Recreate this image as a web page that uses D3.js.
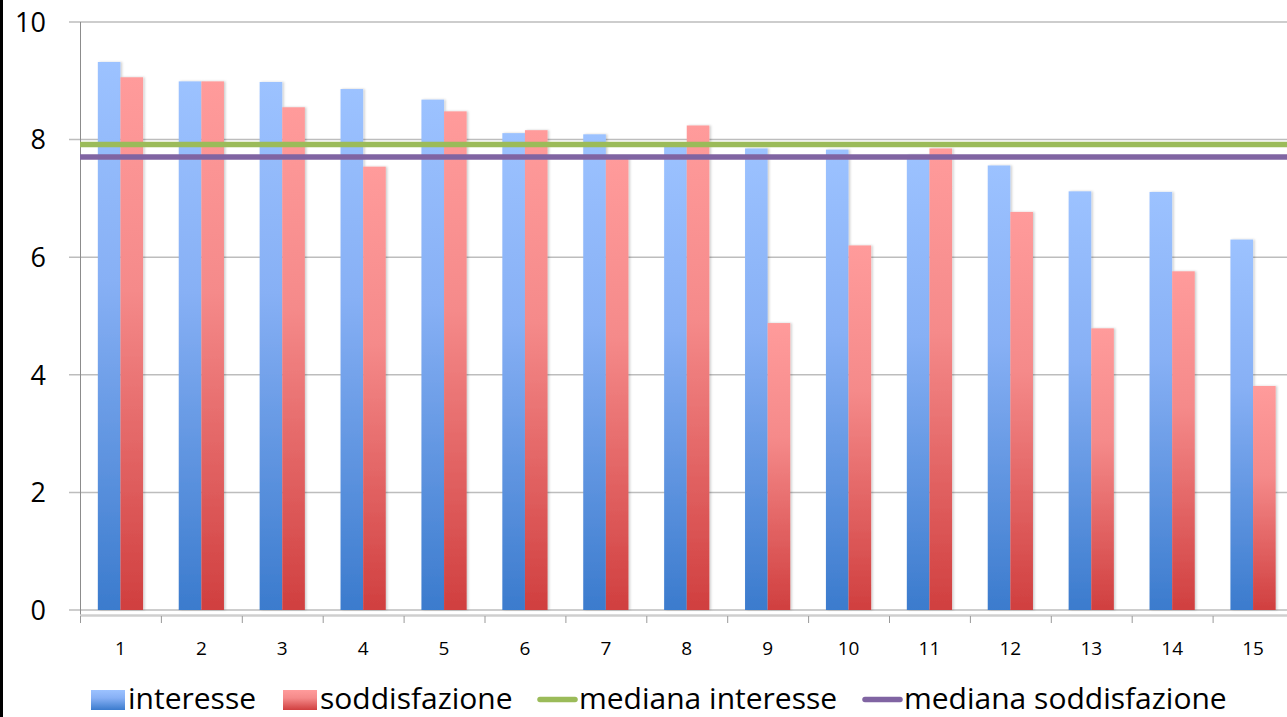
<!DOCTYPE html>
<html>
<head>
<meta charset="utf-8">
<script src="https://cdn.jsdelivr.net/npm/d3@7"></script>
<style>
  html, body { margin: 0; padding: 0; background: #fff; }
  svg { display: block; }
</style>
</head>
<body>
<svg id="chart" width="1287" height="717"></svg>
<script>
const categories = ["1","2","3","4","5","6","7","8","9","10","11","12","13","14","15"];
const interesse = [9.32, 8.99, 8.98, 8.86, 8.68, 8.11, 8.09, 7.92, 7.85, 7.83, 7.74, 7.56, 7.12, 7.11, 6.30];
const soddisfazione = [9.06, 8.99, 8.55, 7.54, 8.48, 8.16, 7.72, 8.24, 4.88, 6.20, 7.85, 6.77, 4.79, 5.76, 3.81];
const medianaInteresse = 7.915;
const medianaSoddisfazione = 7.705;
const yTicks = [0, 2, 4, 6, 8, 10];
const seriesNames = ["interesse", "soddisfazione"];
const legendLabels = ["interesse", "soddisfazione", "mediana interesse", "mediana soddisfazione"];

const svg = d3.select("#chart");
const defs = svg.append("defs");

function grad(id, stops) {
  const g = defs.append("linearGradient").attr("id", id)
    .attr("x1", 0).attr("y1", 0).attr("x2", 0).attr("y2", 1);
  stops.forEach(s => g.append("stop").attr("offset", s[0]).attr("stop-color", s[1]));
}
const blueStops = [["0%", "#9cc2ff"], ["40%", "#87b0f5"], ["100%", "#3b7bcd"]];
const redStops = [["0%", "#ff9b9b"], ["40%", "#f58a8a"], ["100%", "#d03f3f"]];
grad("gBlue", blueStops);
grad("gRed", redStops);
grad("gBlueL", blueStops);
grad("gRedL", redStops);
const fills = { interesse: "url(#gBlue)", soddisfazione: "url(#gRed)" };

const shadow = defs.append("filter").attr("id", "shadow")
  .attr("x", "-20%").attr("y", "-5%").attr("width", "150%").attr("height", "110%");
shadow.append("feDropShadow").attr("dx", 1.5).attr("dy", 0).attr("stdDeviation", 1.2)
  .attr("flood-color", "#000").attr("flood-opacity", 0.2);

const left = 80, bandW = 80.9;
const x = d3.scaleBand().domain(categories).range([left, left + bandW * categories.length]).padding(0);
const x1 = d3.scaleBand().domain(seriesNames).range([x.bandwidth() * 0.2205, x.bandwidth() * 0.7795]).padding(0);
const y = d3.scaleLinear().domain([0, 10]).range([610, 22]);

// left black border
svg.append("rect").attr("x", 0).attr("y", 0).attr("width", 3).attr("height", 717).attr("fill", "#000");

// gridlines
svg.append("g").selectAll("line").data(yTicks).join("line")
  .attr("x1", 69).attr("x2", 1287)
  .attr("y1", d => y(d)).attr("y2", d => y(d))
  .attr("stroke", "#bdbdbd").attr("stroke-width", 1.5);

// y labels
svg.append("g").selectAll("text").data(yTicks).join("text")
  .attr("x", 46).attr("y", d => y(d))
  .attr("dy", "0.36em")
  .attr("text-anchor", "end")
  .attr("font-family", "'Open Sans', sans-serif")
  .attr("font-size", 27)
  .attr("fill", "#000")
  .text(d => d);

// y axis line
svg.append("line").attr("x1", 80.5).attr("x2", 80.5).attr("y1", y(10)).attr("y2", 623)
  .attr("stroke", "#8c8c8c").attr("stroke-width", 1);

// bars
const data = categories.map((c, i) => ({ c, vals: [
  { s: "interesse", v: interesse[i] },
  { s: "soddisfazione", v: soddisfazione[i] }
]}));
const groups = svg.append("g").selectAll("g").data(data).join("g")
  .attr("transform", d => `translate(${x(d.c)},0)`);
groups.selectAll("rect").data(d => d.vals).join("rect")
  .attr("x", d => x1(d.s))
  .attr("y", d => y(d.v))
  .attr("width", x1.bandwidth())
  .attr("height", d => y(0) - y(d.v))
  .attr("fill", d => fills[d.s])
  .attr("filter", "url(#shadow)");

// x axis line
svg.append("line").attr("x1", 80).attr("x2", 1287).attr("y1", 615.5).attr("y2", 615.5)
  .attr("stroke", "#cfcfcf").attr("stroke-width", 2.5);
// x ticks at band boundaries
const boundaries = categories.map(c => x(c));
svg.append("g").selectAll("line").data(boundaries).join("line")
  .attr("x1", d => d + 0.5).attr("x2", d => d + 0.5).attr("y1", 616).attr("y2", 623)
  .attr("stroke", "#999").attr("stroke-width", 1);
// x labels
svg.append("g").selectAll("text").data(categories).join("text")
  .attr("x", d => x(d) + x.bandwidth() / 2)
  .attr("y", 655)
  .attr("text-anchor", "middle")
  .attr("font-family", "'Open Sans', sans-serif")
  .attr("font-size", 19)
  .attr("fill", "#000")
  .text(d => d);

// median lines
svg.append("line").attr("x1", 80).attr("x2", 1287)
  .attr("y1", y(medianaInteresse)).attr("y2", y(medianaInteresse))
  .attr("stroke", "#9bbb59").attr("stroke-width", 5.5);
svg.append("line").attr("x1", 80).attr("x2", 1287)
  .attr("y1", y(medianaSoddisfazione)).attr("y2", y(medianaSoddisfazione))
  .attr("stroke", "#8064a2").attr("stroke-width", 5.5);

// legend
const legendFont = "'Open Sans', sans-serif";
const legendSize = 30;
const lg = svg.append("g");
const items = [
  { label: legendLabels[0], type: "rect", fill: "url(#gBlueL)", x: 91 },
  { label: legendLabels[1], type: "rect", fill: "url(#gRedL)", x: 283 },
  { label: legendLabels[2], type: "line", color: "#9bbb59", x: 538 },
  { label: legendLabels[3], type: "line", color: "#8064a2", x: 863 }
];
items.forEach(it => {
  if (it.type === "rect") {
    lg.append("rect").attr("x", it.x).attr("y", 690).attr("width", 34).attr("height", 20).attr("fill", it.fill);
  } else {
    lg.append("line").attr("x1", it.x + 2).attr("x2", it.x + 37).attr("y1", 699.5).attr("y2", 699.5)
      .attr("stroke", it.color).attr("stroke-width", 5.5).attr("stroke-linecap", "round");
  }
  lg.append("text").attr("x", it.x + (it.type === "rect" ? 37 : 41)).attr("y", 709)
    .attr("font-family", legendFont).attr("font-size", legendSize).attr("fill", "#000")
    .text(it.label);
});
</script>
</body>
</html>
